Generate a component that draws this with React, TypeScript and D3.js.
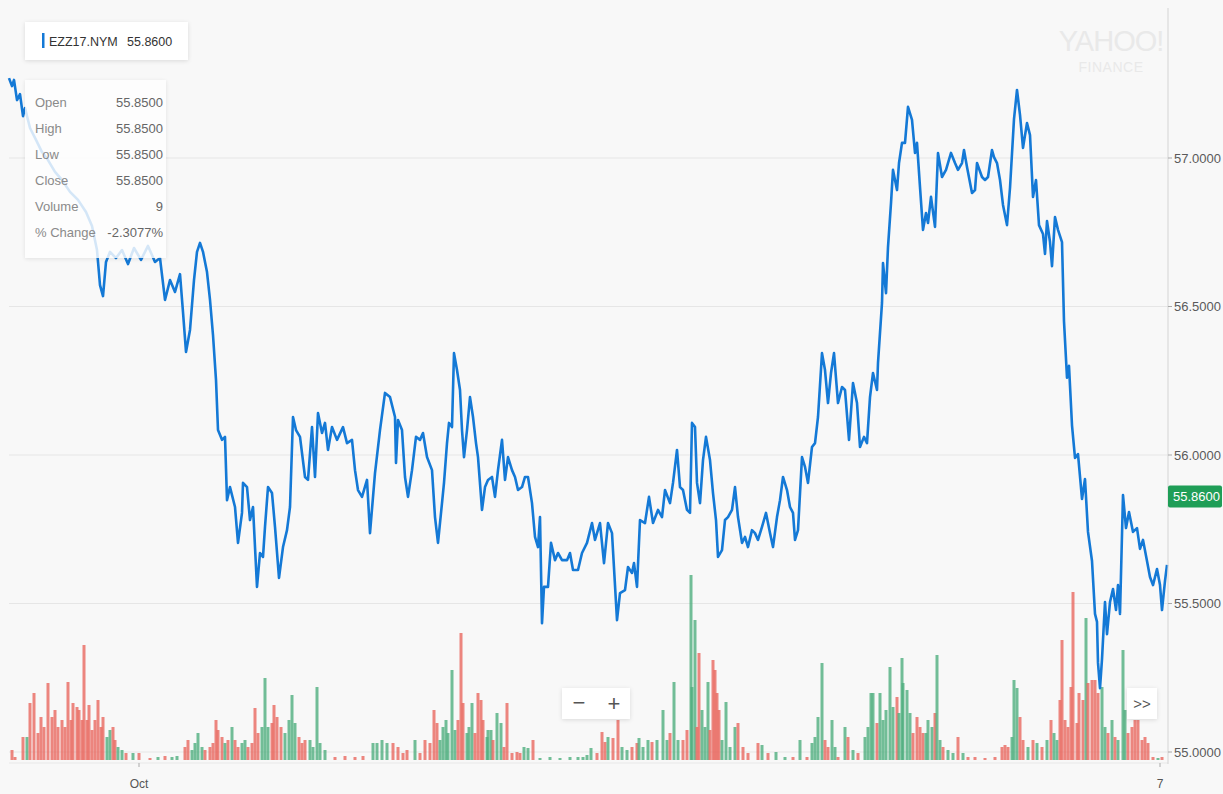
import React from 'react';
import * as d3 from 'd3';

// price trace, [bar index, price]
const priceBars: [number, number][] = [
  [0, 57.269], [3, 57.242], [5, 57.263], [8, 57.195], [11, 57.215], [14, 57.141], [16, 57.168],
  [21, 57.101], [27, 57.061], [33, 57.02], [39, 56.993], [46, 56.953], [53, 56.926], [61, 56.886],
  [69, 56.859], [77, 56.818], [83, 56.771], [88, 56.69], [91, 56.572], [94, 56.535], [97, 56.65],
  [101, 56.684], [107, 56.663], [113, 56.69], [119, 56.643], [125, 56.697], [132, 56.657], [139, 56.704],
  [146, 56.65], [151, 56.663], [156, 56.522], [161, 56.589], [166, 56.549], [171, 56.609], [174, 56.481],
  [177, 56.347], [181, 56.421], [185, 56.589], [188, 56.684], [191, 56.714], [194, 56.684], [198, 56.616],
  [201, 56.522], [204, 56.404], [207, 56.253], [209, 56.084], [213, 56.051], [216, 56.061], [218, 55.848],
  [221, 55.892], [226, 55.825], [229, 55.704], [233, 55.805], [234, 55.906], [238, 55.892], [241, 55.781],
  [244, 55.825], [248, 55.556], [251, 55.67], [254, 55.657], [256, 55.758], [259, 55.892], [263, 55.872],
  [266, 55.758], [270, 55.586], [274, 55.69], [278, 55.747], [281, 55.825], [284, 56.128], [287, 56.084],
  [291, 56.061], [296, 55.926], [299, 55.916], [303, 56.094], [306, 55.926], [309, 56.141], [313, 56.074],
  [316, 56.108], [319, 56.017], [323, 56.094], [328, 56.051], [334, 56.094], [338, 56.04], [343, 56.051],
  [346, 55.949], [349, 55.882], [353, 55.859], [358, 55.916], [361, 55.737], [366, 55.939], [371, 56.084],
  [376, 56.209], [381, 56.195], [386, 56.128], [387, 55.973], [389, 56.118], [393, 56.084], [396, 55.926],
  [399, 55.859], [403, 55.949], [407, 56.061], [411, 56.051], [414, 56.074], [418, 55.993], [423, 55.949],
  [426, 55.791], [429, 55.704], [433, 55.838], [435, 55.906], [438, 56.04], [440, 56.108], [443, 56.094],
  [445, 56.343], [448, 56.286], [451, 56.219], [453, 56.084], [455, 55.993], [458, 56.084], [461, 56.195],
  [464, 56.128], [467, 56.04], [469, 55.993], [473, 55.815], [476, 55.892], [479, 55.916], [483, 55.926],
  [486, 55.859], [489, 55.949], [493, 56.051], [496, 55.916], [499, 55.993], [503, 55.949], [506, 55.926],
  [509, 55.882], [513, 55.892], [516, 55.926], [519, 55.926], [523, 55.838], [526, 55.724], [529, 55.69],
  [531, 55.791], [533, 55.434], [535, 55.556], [539, 55.556], [542, 55.704], [546, 55.646], [549, 55.67],
  [553, 55.646], [558, 55.646], [561, 55.67], [564, 55.613], [569, 55.613], [573, 55.67], [578, 55.704],
  [583, 55.771], [586, 55.714], [591, 55.771], [595, 55.636], [599, 55.771], [603, 55.737], [608, 55.444],
  [611, 55.535], [616, 55.545], [619, 55.623], [623, 55.603], [625, 55.636], [628, 55.556], [631, 55.781],
  [636, 55.771], [640, 55.859], [644, 55.771], [649, 55.815], [653, 55.791], [656, 55.882], [661, 55.838],
  [664, 55.906], [668, 56.017], [671, 55.892], [674, 55.882], [678, 55.815], [681, 55.805], [683, 56.108],
  [686, 56.094], [688, 55.906], [691, 55.838], [694, 55.983], [697, 56.061], [701, 55.983], [704, 55.872],
  [707, 55.781], [709, 55.657], [713, 55.68], [716, 55.781], [719, 55.791], [723, 55.815], [726, 55.892],
  [729, 55.791], [733, 55.704], [736, 55.724], [739, 55.69], [743, 55.747], [746, 55.737], [749, 55.714],
  [753, 55.758], [757, 55.805], [761, 55.737], [764, 55.69], [768, 55.791], [771, 55.848], [774, 55.926],
  [778, 55.882], [781, 55.825], [784, 55.805], [786, 55.714], [789, 55.747], [793, 55.993], [796, 55.96],
  [799, 55.906], [803, 56.027], [806, 56.04], [809, 56.128], [813, 56.343], [816, 56.286], [819, 56.175],
  [822, 56.276], [825, 56.343], [829, 56.175], [833, 56.229], [836, 56.219], [840, 56.051], [844, 56.242],
  [848, 56.175], [851, 56.027], [855, 56.061], [858, 56.04], [861, 56.195], [864, 56.276], [868, 56.219],
  [869, 56.31], [873, 56.512], [874, 56.646], [877, 56.545], [879, 56.7], [882, 56.848], [884, 56.96],
  [888, 56.892], [890, 56.983], [893, 57.051], [896, 57.051], [899, 57.172], [903, 57.128], [906, 57.017],
  [908, 57.051], [911, 56.902], [914, 56.758], [917, 56.815], [919, 56.781], [922, 56.869], [926, 56.768],
  [929, 57.017], [933, 56.936], [937, 56.96], [942, 57.017], [946, 56.983], [949, 56.96], [953, 56.983],
  [955, 57.027], [958, 56.97], [963, 56.882], [966, 56.892], [968, 56.983], [973, 56.936], [976, 56.926],
  [979, 56.936], [983, 57.027], [985, 57.003], [988, 56.983], [991, 56.926], [994, 56.842], [998, 56.774],
  [1001, 56.899], [1005, 57.131], [1008, 57.229], [1011, 57.145], [1014, 57.034], [1018, 57.118], [1021, 57.077],
  [1024, 56.869], [1027, 56.926], [1030, 56.774], [1034, 56.744], [1036, 56.677], [1038, 56.788], [1041, 56.717],
  [1043, 56.636], [1046, 56.801], [1049, 56.758], [1053, 56.717], [1055, 56.45], [1058, 56.26], [1060, 56.3],
  [1063, 56.1], [1066, 55.99], [1069, 56.003], [1073, 55.852], [1076, 55.919], [1079, 55.741], [1083, 55.643],
  [1086, 55.465], [1088, 55.438], [1089, 55.3], [1091, 55.215], [1093, 55.313], [1096, 55.505], [1098, 55.397],
  [1101, 55.505], [1104, 55.549], [1107, 55.478], [1109, 55.562], [1111, 55.465], [1114, 55.865], [1117, 55.754],
  [1120, 55.808], [1124, 55.741], [1128, 55.754], [1131, 55.684], [1134, 55.714], [1138, 55.643], [1141, 55.589],
  [1144, 55.562], [1148, 55.616], [1151, 55.562], [1153, 55.478], [1156, 55.576], [1158, 55.63],
];

// volume, [bar index, contracts]
const volumeBars: [number, number][] = [
  [3, 10], [6, 3], [14, 23], [18, 23], [21, 57], [25, 67], [29, 27], [32, 43], [35, 33], [39, 77],
  [43, 43], [46, 50], [49, 33], [53, 40], [56, 33], [59, 78], [62, 40], [64, 57], [68, 53], [70, 50],
  [73, 40], [75, 115], [78, 40], [80, 55], [83, 30], [86, 40], [89, 60], [92, 33], [94, 43], [98, 23],
  [101, 30], [104, 33], [106, 20], [109, 13], [113, 10], [117, 7], [124, 7], [130, 7], [141, 2], [149, 3],
  [156, 4], [163, 3], [168, 4], [176, 13], [179, 20], [183, 10], [186, 17], [189, 27], [193, 13], [196, 10],
  [201, 13], [204, 17], [207, 40], [209, 30], [213, 23], [216, 17], [219, 20], [223, 33], [226, 20], [229, 13],
  [233, 17], [236, 20], [239, 13], [243, 17], [246, 52], [249, 27], [253, 33], [256, 82], [259, 33], [263, 37],
  [265, 55], [268, 43], [272, 33], [276, 27], [280, 40], [283, 65], [286, 37], [290, 23], [293, 17], [296, 20],
  [301, 20], [304, 13], [308, 73], [311, 17], [316, 10], [326, 3], [336, 4], [346, 3], [354, 4], [364, 17],
  [368, 17], [373, 20], [378, 17], [384, 17], [389, 13], [394, 7], [398, 10], [406, 20], [411, 7], [416, 20],
  [421, 17], [425, 50], [428, 37], [431, 20], [434, 33], [437, 40], [439, 27], [443, 90], [446, 30], [449, 40],
  [452, 127], [454, 57], [458, 27], [460, 33], [463, 57], [466, 27], [469, 67], [472, 60], [474, 40], [478, 23],
  [479, 30], [482, 30], [484, 20], [488, 47], [492, 37], [495, 13], [498, 57], [503, 7], [508, 8], [511, 7],
  [515, 13], [519, 12], [524, 20], [531, 2], [541, 3], [551, 2], [561, 3], [569, 3], [574, 3], [578, 5],
  [582, 12], [588, 7], [593, 28], [596, 18], [599, 23], [604, 22], [609, 40], [613, 13], [618, 10], [623, 13],
  [628, 17], [630, 22], [634, 13], [639, 20], [643, 18], [648, 20], [654, 50], [658, 20], [661, 27], [665, 78],
  [669, 20], [674, 20], [678, 30], [682, 185], [683, 73], [686, 140], [688, 33], [690, 107], [693, 50], [696, 33],
  [699, 78], [701, 30], [704, 100], [706, 90], [708, 67], [710, 50], [713, 20], [717, 58], [721, 13], [726, 33],
  [729, 37], [734, 13], [739, 7], [749, 17], [753, 15], [759, 7], [767, 8], [776, 3], [784, 3], [791, 20],
  [798, 3], [803, 17], [806, 23], [809, 43], [813, 97], [816, 20], [819, 13], [823, 40], [826, 13], [829, 3],
  [836, 33], [839, 23], [844, 10], [849, 7], [856, 23], [859, 33], [862, 67], [864, 67], [868, 37], [871, 67],
  [874, 40], [877, 50], [881, 93], [884, 53], [888, 63], [890, 47], [893, 102], [894, 77], [898, 70], [901, 47],
  [904, 27], [908, 43], [911, 33], [914, 27], [917, 27], [919, 40], [923, 33], [926, 47], [928, 105], [931, 20],
  [934, 13], [939, 10], [944, 7], [949, 23], [954, 7], [959, 3], [966, 3], [976, 2], [986, 3], [993, 13],
  [996, 15], [999, 13], [1003, 23], [1005, 80], [1008, 72], [1011, 43], [1014, 20], [1019, 13], [1024, 20], [1028, 17],
  [1033, 13], [1038, 20], [1042, 40], [1045, 27], [1048, 20], [1051, 60], [1053, 120], [1056, 40], [1059, 33], [1062, 73],
  [1064, 168], [1068, 37], [1070, 67], [1074, 60], [1077, 142], [1079, 77], [1083, 80], [1086, 80], [1089, 67], [1093, 73],
  [1096, 33], [1099, 27], [1103, 40], [1106, 23], [1109, 20], [1114, 110], [1116, 50], [1119, 27], [1123, 33], [1126, 40],
  [1129, 40], [1133, 20], [1136, 23], [1139, 17], [1144, 3], [1149, 2], [1153, 3],
];

const priceTicks = [55.0, 55.5, 56.0, 56.5, 57.0];
const dateTicks: [number, string][] = [[130, 'Oct'], [1151, '7']];
const lastPrice = 55.86;
const symbol = 'EZZ17.NYM';
const tipLabels = ['Open', 'High', 'Low', 'Close', 'Volume', '% Change'];
const tipValues = ['55.8500', '55.8500', '55.8500', '55.8500', '9', '-2.3077%'];

const W = 1223;
const H = 794;
const FONT = '"Liberation Sans", Arial, sans-serif';

const App: React.FC = () => {
  const x = d3.scaleLinear().domain([0, 1158]).range([9, 1167]);
  const y = d3.scaleLinear().domain([55, 57]).range([752, 158]);
  const v = d3.scaleLinear().domain([0, 190]).range([760, 570]);
  const axisX = 1168;

  const line = d3.line<[number, number]>()
    .x(d => x(d[0]))
    .y(d => y(d[1]));

  // colour volume by price direction around that bar
  const bis = d3.bisector((d: [number, number]) => d[0]).left;
  const priceAt = (b: number) => {
    const i = Math.max(1, Math.min(priceBars.length - 1, bis(priceBars, b)));
    const a = priceBars[i - 1], c = priceBars[i];
    const t = c[0] === a[0] ? 0 : (b - a[0]) / (c[0] - a[0]);
    return a[1] + (c[1] - a[1]) * Math.max(0, Math.min(1, t));
  };

  return (
    <div style={{ position: 'absolute', left: 0, top: 0 }}>
      <svg width={W} height={H} style={{ display: 'block', fontFamily: FONT }}>
        <defs>
          <filter id="shadow" x="-20%" y="-20%" width="140%" height="150%">
            <feDropShadow dx="0" dy="1" stdDeviation="2" floodColor="#000" floodOpacity="0.12" />
          </filter>
        </defs>
        <rect x={0} y={0} width={W} height={H} fill="#f8f8f8" />

        {/* watermark */}
        <text x={1111} y={51} textAnchor="middle" fontSize={29} fill="#e9e9e9" letterSpacing={-1}>YAHOO!</text>
        <text x={1111} y={72} textAnchor="middle" fontSize={14} fill="#e9e9e9" letterSpacing={0.5}>FINANCE</text>

        {/* grid */}
        {priceTicks.map(t => (
          <line key={t} x1={9} x2={axisX} y1={y(t)} y2={y(t)} stroke="#e6e6e6" strokeWidth={1} />
        ))}
        <line x1={9} x2={axisX} y1={763} y2={763} stroke="#e8e8e8" />

        {/* volume */}
        {volumeBars.map(([b, vol], i) => {
          const up = priceAt(b) >= priceAt(b - 4);
          return (
            <rect key={i} x={x(b) - 1.5} y={v(vol)} width={3} height={v(0) - v(vol)}
              fill={up ? '#4fae7e' : '#e8685f'} opacity={0.8} />
          );
        })}

        {/* price line */}
        <path d={line(priceBars) || ''} fill="none" stroke="#1479d6" strokeWidth={2.6} strokeLinejoin="round" />

        {/* right axis */}
        <line x1={axisX} x2={axisX} y1={8} y2={764} stroke="#d4d4d4" />
        {priceTicks.map(t => (
          <g key={t}>
            <line x1={axisX} x2={axisX + 4} y1={y(t)} y2={y(t)} stroke="#aaa" />
            <text x={axisX + 6} y={y(t)} dy="0.35em" fontSize={13} fill="#5a5a5a">{t.toFixed(4)}</text>
          </g>
        ))}
        <rect x={axisX} y={y(lastPrice) - 11} width={54} height={22} rx={2} fill="#1f9e57" />
        <text x={axisX + 5} y={y(lastPrice)} dy="0.35em" fontSize={13} fill="#fff">{lastPrice.toFixed(4)}</text>

        {/* date axis */}
        {dateTicks.map(([b, label]) => (
          <g key={label}>
            <line x1={x(b)} x2={x(b)} y1={763} y2={767} stroke="#aaa" />
            <text x={x(b)} y={788} textAnchor="middle" fontSize={12} fill="#555">{label}</text>
          </g>
        ))}

        {/* legend chip */}
        <rect x={25} y={22} width={163} height={38} fill="#fff" filter="url(#shadow)" />
        <rect x={42} y={33} width={2.5} height={15} fill="#1479d6" />
        <text x={49} y={46} fontSize={12.5} fill="#333">{symbol}</text>
        <text x={127} y={46} fontSize={12.5} fill="#333">{lastPrice.toFixed(4)}</text>

        {/* hover panel */}
        <rect x={25} y={80} width={141} height={178} fill="#fff" opacity={0.82} filter="url(#shadow)" />
        {tipLabels.map((l, i) => (
          <g key={l}>
            <text x={35} y={107 + i * 26} fontSize={13} fill="#8a8a8a">{l}</text>
            <text x={163} y={107 + i * 26} textAnchor="end" fontSize={13} fill="#666">{tipValues[i]}</text>
          </g>
        ))}

        {/* zoom controls */}
        <rect x={562} y={688} width={68} height={31} fill="#fff" filter="url(#shadow)" />
        <text x={579} y={710} textAnchor="middle" fontSize={22} fill="#555">−</text>
        <text x={614} y={711} textAnchor="middle" fontSize={22} fill="#555">+</text>
        <rect x={1127} y={688} width={30} height={31} fill="#fff" filter="url(#shadow)" />
        <text x={1142} y={709} textAnchor="middle" fontSize={15} fill="#555">{'>>'}</text>
      </svg>
    </div>
  );
};

export default App;
